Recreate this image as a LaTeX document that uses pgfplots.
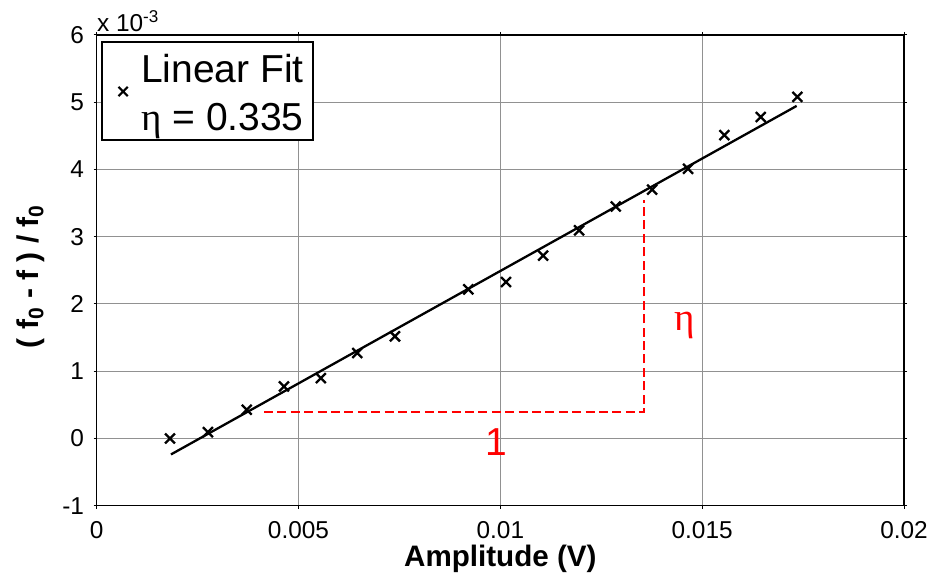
\documentclass[border=0pt]{standalone}
\usepackage{pgfplots}
\pgfplotsset{compat=1.18}
\usepackage{fontspec}
\setmainfont{Liberation Sans}
\newfontfamily\serifeta{Liberation Serif}
\definecolor{gridgray}{RGB}{145,145,145}
\begin{document}
\begin{tikzpicture}
\useasboundingbox (-48.35pt,-37.65pt) rectangle (417.65pt,252.85pt);
\begin{axis}[
  scale only axis,
  width=403.65pt, height=235.35pt,
  xmin=0, xmax=0.02, ymin=-1, ymax=6,
  clip=false,
  scaled x ticks=false, scaled y ticks=false,
  axis line style={line width=0.7pt},
  xtick={0,0.005,0.01,0.015,0.02},
  xticklabels={0,0.005,0.01,0.015,0.02},
  ytick={-1,0,1,2,3,4,5,6},
  yticklabels={-1,0,1,2,3,4,5,6},
  /pgf/number format/assume math mode=true,
  tick align=outside,
  major tick length=1.5pt,
  tick style={line width=0.5pt, black},
  grid=major,
  major grid style={gridgray, line width=0.5pt},
  ticklabel style={font=\fontsize{12.2}{14}\selectfont},
  yticklabel style={xshift=-1.3pt},
  xticklabel style={yshift=-3.1pt},
  legend style={at={(rel axis cs:0.0053,0.987)}, anchor=north west,
    draw=black, line width=0.8pt, fill=white,
    font=\fontsize{19.5}{24.3}\selectfont,
    cells={align=left, inner sep=0pt}, inner xsep=2.6pt, inner ysep=1pt},
  legend image code/.code={\path (0pt,0pt) (14pt,0pt);\draw[line width=1.1pt, black] plot[mark=x, mark size=3.3pt] coordinates {(7.5pt,-0.3pt)};},
]
\addplot[only marks, mark=x, mark size=3.5pt, line width=1.15pt, black] coordinates {
(0.001816,0.000)
(0.002757,0.094)
(0.003716,0.427)
(0.004640,0.774)
(0.005556,0.897)
(0.006456,1.270)
(0.007390,1.518)
(0.009205,2.217)
(0.010140,2.326)
(0.011060,2.720)
(0.011950,3.095)
(0.012860,3.450)
(0.013760,3.700)
(0.014650,4.010)
(0.015550,4.510)
(0.016450,4.780)
(0.017360,5.080)
};
\addlegendentry{\rule{0pt}{17.2pt}Linear Fit\\{\serifeta η} = 0.335\rule[-3.3pt]{0pt}{0pt}}
\addplot[black, line width=1.15pt, forget plot] coordinates {(0.00184,-0.238) (0.01734,4.945)};
\addplot[red, line width=1.1pt, dash pattern=on 4.5pt off 2.2pt, forget plot] coordinates {(0.004145,0.39) (0.01356,0.39) (0.01356,3.54)};
\node[red, anchor=base, font=\fontsize{19.5}{22}\selectfont] at (axis cs:0.00989,-0.253) {1};
\node[red, anchor=base, font=\fontsize{19.5}{22}\serifeta] at (axis cs:0.01457,1.607) {η};
\node[anchor=base west, inner sep=0pt, font=\fontsize{12.2}{14}\selectfont] at ([yshift=1.65pt]rel axis cs:0,1) {x 10\textsuperscript{-3}};
\node[anchor=base, inner sep=0pt, font=\fontsize{14.8}{17}\selectfont\bfseries] at ([yshift=-30.5pt]rel axis cs:0.5,0) {Amplitude (V)};
\node[rotate=90, anchor=center, inner sep=0pt, font=\fontsize{15}{17}\selectfont\bfseries] at ([xshift=-32.85pt,yshift=-3pt]rel axis cs:0,0.5) {( f\textsubscript{0} - f ) / f\textsubscript{0}};
\end{axis}
\end{tikzpicture}
\end{document}
